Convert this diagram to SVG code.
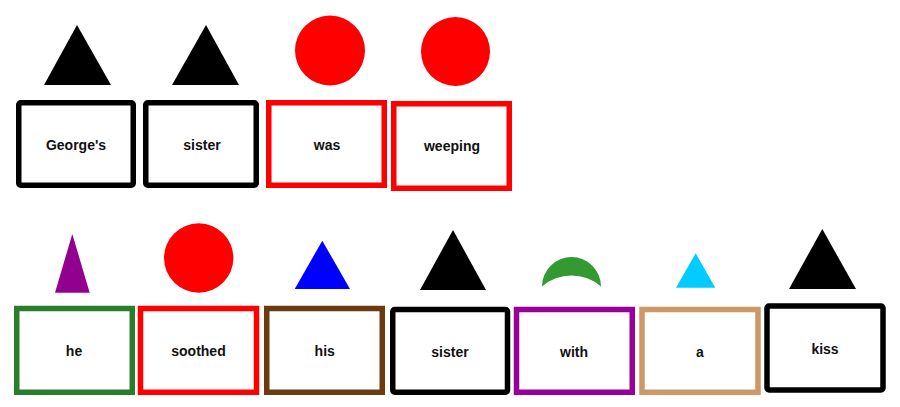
<svg xmlns="http://www.w3.org/2000/svg" width="900" height="407" viewBox="0 0 900 407">
<style>
.box{fill:#fff;stroke-width:5.5}
.lbl{font-family:"Liberation Sans",Arial,sans-serif;font-weight:bold;font-size:14px;fill:#111;text-anchor:middle}
</style>
<rect width="900" height="407" fill="#fff"/>
<g id="n-georges">
<polygon points="77,25 44,85 111,85" fill="#000"/>
<rect class="box" x="18.75" y="102.75" width="114.5" height="82.5" rx="2" stroke="#000"/>
<text class="lbl" x="76" y="150">George's</text>
</g>
<g id="n-sister1">
<polygon points="206,25 172,85 239,85" fill="#000"/>
<rect class="box" x="145.75" y="102.75" width="110.5" height="82.5" rx="2" stroke="#000"/>
<text class="lbl" x="202" y="150">sister</text>
</g>
<g id="n-was">
<circle cx="330" cy="50.5" r="35" fill="#ff0000"/>
<rect class="box" x="268.75" y="102.75" width="115.5" height="82.5" stroke="#ff0000"/>
<text class="lbl" x="327" y="150">was</text>
</g>
<g id="n-weeping">
<circle cx="455.5" cy="51.5" r="34.5" fill="#ff0000"/>
<rect class="box" x="393.75" y="103.75" width="115.5" height="84.5" stroke="#ff0000"/>
<text class="lbl" x="452" y="151">weeping</text>
</g>
<g id="n-he">
<polygon points="72.3,234 55,292.7 89.7,292.7" fill="#92008f"/>
<rect class="box" x="16.75" y="308.5" width="115.5" height="83.75" stroke="#2a7d2a"/>
<text class="lbl" x="74" y="356">he</text>
</g>
<g id="n-soothed">
<circle cx="198.7" cy="258" r="34.7" fill="#ff0000"/>
<rect class="box" x="140.5" y="308.5" width="116" height="83.75" stroke="#ff0000"/>
<text class="lbl" x="198.5" y="356">soothed</text>
</g>
<g id="n-his">
<polygon points="322.3,240.7 294.7,289 350,289" fill="#0000ff"/>
<rect class="box" x="266.75" y="308.5" width="115.5" height="83.75" stroke="#6b3a0f"/>
<text class="lbl" x="324.7" y="356">his</text>
</g>
<g id="n-sister2">
<polygon points="453,230 420,290 486,290" fill="#000"/>
<rect class="box" x="392.75" y="309.5" width="114.75" height="82.75" rx="2" stroke="#000"/>
<text class="lbl" x="450" y="356.5">sister</text>
</g>
<g id="n-with">
<path d="M542,286.5 A29.5,29.5 0 0 1 601,286.5 A45,45 0 0 0 542,286.5 Z" fill="#339933"/>
<rect class="box" x="516.5" y="309.5" width="115.75" height="82.75" stroke="#990099"/>
<text class="lbl" x="574" y="357">with</text>
</g>
<g id="n-a">
<polygon points="695.7,253.3 676,287.7 715.3,287.7" fill="#00ccff"/>
<rect class="box" x="642" y="309.5" width="116" height="82.75" stroke="#cc9966"/>
<text class="lbl" x="700" y="357">a</text>
</g>
<g id="n-kiss">
<polygon points="822.3,229 789,289 856,289" fill="#000"/>
<rect class="box" x="767" y="306" width="116" height="84" rx="2" stroke="#000"/>
<text class="lbl" x="825" y="353.5">kiss</text>
</g>
<g id="connectors"></g>
</svg>
